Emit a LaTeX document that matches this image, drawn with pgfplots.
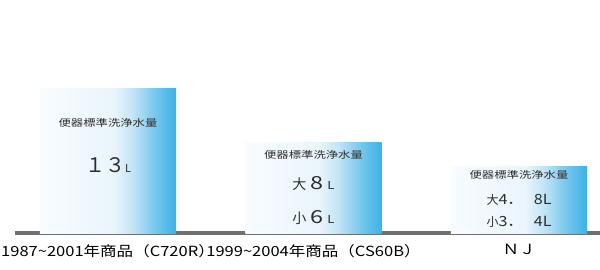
\documentclass[border=0pt]{standalone}
\usepackage{pgfplots}
\pgfplotsset{compat=1.18}
\usepackage{fontspec}
\setmainfont{Noto Sans CJK JP}
\newfontfamily\jp{Noto Sans CJK JP}
\definecolor{s0}{RGB}{248,252,255}
\definecolor{s1}{RGB}{234,245,252}
\definecolor{s2}{RGB}{195,228,245}
\definecolor{s3}{RGB}{112,197,236}
\definecolor{s4}{RGB}{58,178,230}
\definecolor{axgray}{RGB}{112,112,112}
\definecolor{txt}{RGB}{45,45,45}
\pgfdeclarehorizontalshading{barshade}{100bp}{color(0bp)=(s0); color(25bp)=(s0); color(52bp)=(s1); color(59bp)=(s2); color(68bp)=(s3); color(75bp)=(s4); color(100bp)=(s4)}
\newcommand\ttl{\scalebox{1.3}[1]{\fontsize{9.5bp}{10bp}\selectfont 便器標準洗浄水量}}
\newcommand\fs[1]{\fontsize{#1}{#1}\selectfont}
\newcommand\lab[1]{\scalebox{1.18}[1]{#1}}
\begin{document}
\begin{tikzpicture}
\path[use as bounding box] (0,0) rectangle (600bp,270bp);
\begin{axis}[
  at={(15bp,37bp)}, anchor=south west,
  scale only axis, width=585bp, height=233bp,
  xmin=-0.4526, xmax=2.394, ymin=0, ymax=20.89,
  axis x line=bottom, axis y line=none,
  x axis line style={-, line width=3bp, color=axgray},
  ytick=\empty, xtick={0,1,2}, major tick length=0,
  xticklabels={\lab{1987\textasciitilde2001年商品（C720R）}, \lab{1999\textasciitilde2004年商品（CS60B）}, \lab{ＮＪ}},
  xticklabel style={font=\jp\fs{14bp}, text=black, yshift=-8bp},
  ybar, bar width=0.663, bar shift=0pt, clip=false,
]
\addplot[draw=none, shade, shading=barshade] coordinates {(0,13)};
\addplot[draw=none, shade, shading=barshade] coordinates {(1,8.07)};
\addplot[draw=none, shade, shading=barshade] coordinates {(2,5.92)};
\node[text=txt] at (axis cs:0,9.86) {\ttl};
\node[text=txt] at (axis cs:0,6.1) {\fs{20bp}１３\fs{11bp}L};
\node[text=txt] at (axis cs:1,7.0) {\ttl};
\node[text=txt] at (axis cs:1,4.48) {\fs{14bp}大\hspace{4bp}\scalebox{1.3}[1]{\fs{18bp}8}\hspace{4bp}\scalebox{1.2}[1]{\fs{11bp}L}};
\node[text=txt] at (axis cs:1,1.43) {\fs{14bp}小\hspace{4bp}\scalebox{1.3}[1]{\fs{18bp}6}\hspace{4bp}\scalebox{1.2}[1]{\fs{11bp}L}};
\node[text=txt] at (axis cs:2,5.2) {\ttl};
\node[text=txt] at (axis cs:2,2.96) {\fs{12bp}大\scalebox{1.15}[1]{\fs{14bp}4．\hspace{9bp}8L}};
\node[text=txt] at (axis cs:2,0.99) {\fs{12bp}小\scalebox{1.15}[1]{\fs{14bp}3．\hspace{9bp}4L}};
\end{axis}
\end{tikzpicture}
\end{document}
